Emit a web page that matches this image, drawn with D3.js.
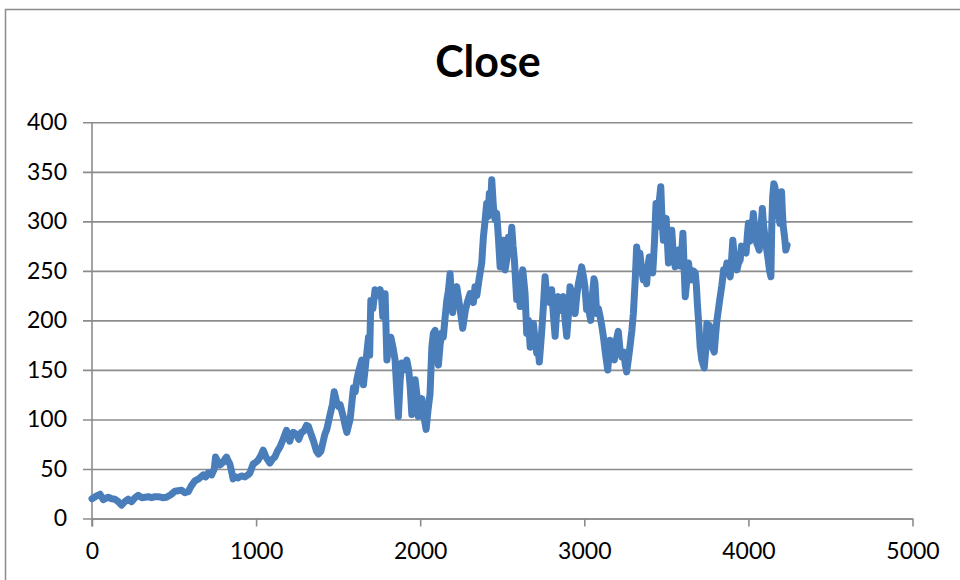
<!DOCTYPE html>
<html>
<head>
<meta charset="utf-8">
<script src="https://cdn.jsdelivr.net/npm/d3@7"></script>
<style>
  html, body { margin: 0; padding: 0; background: #fff; }
  svg { display: block; }
</style>
</head>
<body>
<svg id="chart" width="960" height="580"></svg>
<script>
// Daily closing prices by trading-day index
const dayIndex = [
  0,20,49,69,99,120,140,160,180,200,221,241,262,282,303,323,343,363,384,404,
  430,454,480,505,525,546,566,586,605,627,650,678,693,708,729,745,753,765,779,800,
  810,820,830,840,850,860,875,891,910,932,950,962,982,1000,1013,1030,1043,1060,1084,1100,
  1114,1130,1145,1165,1185,1195,1205,1215,1226,1245,1260,1276,1290,1307,1319,1337,1350,1368,1380,1395,
  1419,1431,1451,1465,1476,1490,1502,1512,1532,1545,1553,1565,1573,1593,1604,1614,1624,1644,1654,1665,
  1685,1692,1699,1712,1725,1740,1756,1765,1772,1786,1797,1808,1821,1835,1847,1857,1867,1878,1888,1900,
  1918,1930,1939,1949,1958,1969,1980,1989,2000,2010,2020,2036,2048,2060,2071,2080,2091,2100,2111,2121,
  2131,2141,2150,2162,2172,2182,2190,2198,2210,2223,2240,2259,2275,2290,2304,2324,2334,2345,2361,2375,
  2385,2395,2405,2414,2421,2430,2436,2446,2456,2466,2476,2487,2497,2507,2517,2528,2538,2548,2558,2566,
  2574,2588,2598,2609,2617,2625,2639,2649,2660,2670,2680,2690,2700,2710,2718,2726,2741,2751,2761,2771,
  2781,2791,2801,2812,2822,2832,2842,2852,2862,2872,2883,2893,2903,2913,2923,2934,2944,2954,2964,2974,
  2984,2994,3004,3014,3024,3039,3049,3059,3065,3075,3086,3096,3106,3116,3130,3143,3150,3157,3167,3177,
  3183,3195,3207,3218,3228,3240,3250,3258,3268,3278,3290,3299,3310,3319,3329,3339,3350,3360,3370,3380,
  3388,3396,3406,3417,3428,3437,3444,3451,3458,3466,3474,3482,3490,3499,3506,3513,3523,3533,3543,3554,
  3564,3574,3584,3594,3601,3608,3615,3625,3635,3645,3655,3665,3676,3683,3690,3698,3706,3716,3725,3731,
  3740,3747,3755,3763,3772,3782,3792,3800,3808,3818,3828,3838,3849,3859,3869,3879,3889,3897,3905,3914,
  3922,3930,3940,3950,3958,3966,3976,3986,3993,4000,4010,4020,4030,4040,4051,4058,4066,4075,4085,4093,
  4101,4111,4121,4129,4137,4143,4148,4155,4161,4167,4172,4181,4192,4202,4207,4212,4220,4228,4236
];
const closePrice = [
  20,22,24.5,19,21.5,20,19.5,17,13.5,17,19.5,17,21,23.5,21,21.5,22,21,22,22,
  21,21.5,24,27.5,28,28.5,26,27,33,38,40,44,42,46,44,50,62,58,54,57,
  60,62,58,55,48,40,42,41,43,42,44,46,55,57,59,64,69,62,56,60,
  62,68,72,80,89,84,78,84,87,85,80,87,88,94,93,84,78,68,65,68,
  85,90,105,115,128,118,113,115,102,92,87,95,100,132,128,140,148,160,135,152,
  183,165,220,212,231,225,231,222,204,227,160,175,183,172,160,130,103,140,157,150,
  160,150,133,105,115,140,125,103,110,121,105,90,110,126,173,187,190,170,155,175,
  187,183,200,220,230,247,225,208,230,234,215,192,210,220,227,218,234,225,244,258,
  284,300,318,305,328,320,342,315,302,308,285,254,268,281,251,262,284,270,294,275,
  261,221,245,214,240,251,227,187,200,173,190,197,180,167,175,158,190,215,244,225,
  227,218,231,205,184,210,224,210,221,224,200,184,205,234,228,215,207,225,237,245,
  254,245,234,211,214,200,225,242,238,207,212,204,195,184,165,150,165,180,175,163,
  160,180,189,170,163,168,155,148,160,173,190,207,240,274,262,268,250,241,245,237,
  255,264,250,248,280,318,300,295,322,335,300,281,295,303,280,258,275,291,265,254,
  262,271,255,270,288,255,224,240,258,245,241,250,248,235,214,195,173,160,155,152,
  170,197,185,195,180,172,168,185,200,212,224,235,251,248,258,250,244,260,281,265,
  258,251,258,261,275,274,270,268,285,298,280,288,308,290,278,275,271,290,313,295,
  285,272,261,250,244,300,325,338,335,328,321,308,298,330,310,295,285,271,276
];
const xTicks = [0, 1000, 2000, 3000, 4000, 5000];
const yTicks = [0, 50, 100, 150, 200, 250, 300, 350, 400];
const chartTitle = "Close";

const series = dayIndex.map((d, i) => ({ x: d, y: closePrice[i] }));

const svg = d3.select("#chart");
const gridColor = "#8c8c8c";
const font = "Lato, 'Open Sans', sans-serif";

// Chart area frame
svg.append("rect")
  .attr("x", 5.5).attr("y", 9.5)
  .attr("width", 1000).attr("height", 700)
  .attr("fill", "#fff")
  .attr("stroke", "#8c8c8c")
  .attr("stroke-width", 1.5);

const x = d3.scaleLinear().domain([0, 5000]).range([92, 912.5]);
const y = d3.scaleLinear().domain([0, 400]).range([518.5, 122.3]);

// Horizontal gridlines with short outside ticks on the value axis
const yAxis = d3.axisLeft(y)
  .tickValues(yTicks)
  .tickSize(-(912.5 - 92))
  .tickSizeOuter(0)
  .tickPadding(25)
  .tickFormat(d3.format("d"));

const gy = svg.append("g")
  .attr("transform", "translate(92,0)")
  .call(yAxis);
gy.select(".domain").remove();
gy.selectAll(".tick line")
  .attr("x1", -9)
  .attr("stroke", gridColor)
  .attr("stroke-width", 1.6);
gy.selectAll(".tick text")
  .attr("font-family", font)
  .attr("font-size", 23)
  .attr("fill", "#000");

// Category axis along the bottom
const xAxis = d3.axisBottom(x)
  .tickValues(xTicks)
  .tickSize(8)
  .tickSizeOuter(0)
  .tickPadding(16)
  .tickFormat(d3.format("d"));

const gx = svg.append("g")
  .attr("transform", "translate(0,518.5)")
  .call(xAxis);
gx.select(".domain")
  .attr("stroke", gridColor)
  .attr("stroke-width", 1.6);
gx.selectAll(".tick line")
  .attr("stroke", gridColor)
  .attr("stroke-width", 1.6);
gx.selectAll(".tick text")
  .attr("font-family", font)
  .attr("font-size", 23)
  .attr("fill", "#000");

// Vertical axis line
svg.append("line")
  .attr("x1", x(0)).attr("x2", x(0))
  .attr("y1", y(400)).attr("y2", y(0) + 8)
  .attr("stroke", gridColor)
  .attr("stroke-width", 1.6);

// Price line
const line = d3.line()
  .x(d => x(d.x))
  .y(d => y(d.y));

svg.append("path")
  .datum(series)
  .attr("d", line)
  .attr("fill", "none")
  .attr("stroke", "#4a7ebb")
  .attr("stroke-width", 7)
  .attr("stroke-linejoin", "round")
  .attr("stroke-linecap", "round");

// Title
svg.append("text")
  .attr("x", 488)
  .attr("y", 77)
  .attr("text-anchor", "middle")
  .attr("font-family", font)
  .attr("font-weight", "bold")
  .attr("font-size", 43)
  .attr("fill", "#000")
  .text(chartTitle);
</script>
</body>
</html>
